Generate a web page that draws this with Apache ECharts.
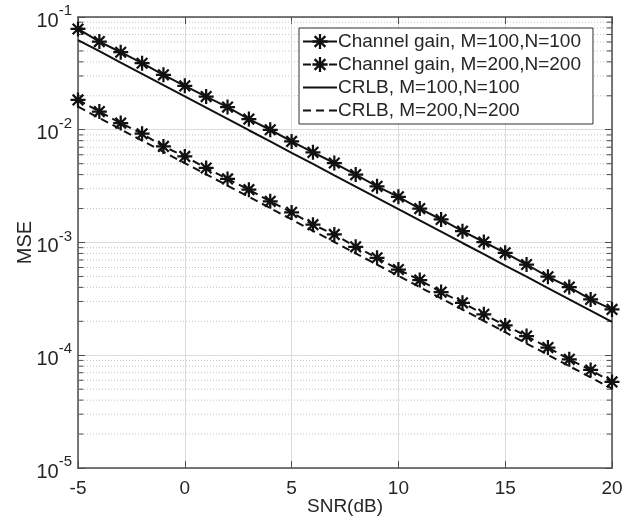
<!DOCTYPE html>
<html>
<head>
<meta charset="utf-8">
<script src="https://cdn.jsdelivr.net/npm/echarts@6/dist/echarts.min.js"></script>
<style>
html,body{margin:0;padding:0;background:#fff;}
#chart{width:634px;height:527px;}
</style>
</head>
<body>
<div id="chart"></div>
<script>
// ---- data ----
const snrDb = [-5,-4,-3,-2,-1,0,1,2,3,4,5,6,7,8,9,10,11,12,13,14,15,16,17,18,19,20];
const gainM100 = [0.0783,0.0605,0.0487,0.0389,0.0307,0.0245,0.0197,0.0159,0.01244,0.0100,0.00788,0.0063,0.00507,0.0040,0.00315,0.00254,0.0020,0.0016,0.00126,0.00101,0.00081,0.000638,0.000497,0.000402,0.000313,0.000255];
const gainM200 = [0.0184,0.0145,0.01146,0.00922,0.00711,0.0058,0.00458,0.00366,0.00294,0.00232,0.00185,0.00144,0.00118,0.000916,0.000732,0.000576,0.000464,0.000363,0.000292,0.000231,0.000184,0.000148,0.000117,0.000092,0.000074,0.000058];
const crlbM100 = [0.0625,0.0497,0.0394,0.0313,0.0249,0.0198,0.0157,0.0125,0.0099,0.0079,0.00625,0.00497,0.00394,0.00313,0.00249,0.00198,0.00157,0.00125,0.00099,0.00079,0.000625,0.000497,0.000394,0.000313,0.000249,0.000198];
const crlbM200 = [0.0160,0.0127,0.0101,0.0080,0.00637,0.00506,0.00402,0.0032,0.00254,0.00202,0.0016,0.00127,0.00101,0.0008,0.000637,0.000506,0.000402,0.00032,0.000254,0.000202,0.00016,0.000127,0.000101,0.00008,0.0000637,0.0000506];
const seriesNames = ['Channel gain, M=100,N=100','Channel gain, M=200,N=200','CRLB, M=100,N=100','CRLB, M=200,N=200'];
const xTicks = [-5,0,5,10,15,20];
const yDecades = [-5,-4,-3,-2,-1];

// ---- helpers ----
const FONT = "'Liberation Sans',Arial,sans-serif";
const TXT = '#262626';
const AX = '#4d4d4d';
const pair = (xs, ys) => xs.map((x, i) => [x, ys[i]]);
const asterisk = 'path://M8.5,0L11.5,0L11.5,20L8.5,20Z M0,8.5L20,8.5L20,11.5L0,11.5Z M3.99,1.87L18.13,16.01L16.01,18.13L1.87,3.99Z M16.01,1.87L18.13,3.99L3.99,18.13L1.87,16.01Z';

// minor grid + minor tick values (2..9 x 10^k), drawn as broken line segments
const xmin = xTicks[0], xmax = xTicks[xTicks.length - 1];
const tickLenX = 0.25;
const minorGridData = [], minorTickData = [];
yDecades.slice(0, 4).forEach(e => {
  for (let m = 2; m <= 9; m++) {
    const v = m * Math.pow(10, e);
    minorGridData.push([xmin, v], [xmax, v], [xmax, '-']);
    minorTickData.push([xmin, v], [xmin + tickLenX, v], [xmin + tickLenX, '-']);
    minorTickData.push([xmax - tickLenX, v], [xmax, v], [xmax, '-']);
  }
});

const chart = echarts.init(document.getElementById('chart'), null, { renderer: 'canvas' });
const lineBase = { type: 'line', animation: false, xAxisIndex: 0, yAxisIndex: 0 };
const hiddenIcon = { color: 'rgba(0,0,0,0)', borderWidth: 0, opacity: 0 };

chart.setOption({
  backgroundColor: '#fff',
  textStyle: { fontFamily: FONT },
  grid: { left: 78, right: 22, top: 17, bottom: 59, show: false },
  legend: {
    orient: 'vertical', left: 299, top: 28,
    backgroundColor: '#fff', borderColor: '#333', borderWidth: 1,
    padding: [4, 12, 4, 3], itemGap: 4, itemWidth: 34, itemHeight: 19,
    textStyle: { fontSize: 19, color: TXT, fontFamily: FONT, padding: [0, 0, 0, -4] },
    data: [
      { name: seriesNames[0] },
      { name: seriesNames[1] },
      { name: seriesNames[2], itemStyle: hiddenIcon },
      { name: seriesNames[3], itemStyle: hiddenIcon }
    ]
  },
  xAxis: [{
    type: 'value', min: xmin, max: xmax, interval: 5, position: 'bottom',
    name: 'SNR(dB)', nameLocation: 'middle', nameGap: 29, nameMoveOverlap: false,
    nameTextStyle: { fontSize: 19, color: TXT, fontFamily: FONT },
    axisLine: { show: true, lineStyle: { color: AX, width: 1.5 } },
    axisTick: { show: true, inside: true, length: 7, lineStyle: { color: AX } },
    axisLabel: { fontSize: 19, color: TXT, fontFamily: FONT, margin: 11 },
    splitLine: { show: true, lineStyle: { color: '#dcdcdc', width: 1 } }
  }, {
    type: 'value', min: xmin, max: xmax, interval: 5, position: 'top',
    axisLine: { show: true, onZero: false, lineStyle: { color: AX, width: 1.5 } },
    axisTick: { show: true, inside: true, length: 7, lineStyle: { color: AX } },
    axisLabel: { show: false }, splitLine: { show: false }
  }],
  yAxis: [{
    type: 'log', logBase: 10, min: 1e-5, max: 1e-1, position: 'left',
    name: 'MSE', nameLocation: 'middle', nameGap: 43, nameRotate: 90, nameMoveOverlap: false,
    nameTextStyle: { fontSize: 20, color: TXT, fontFamily: FONT },
    axisLine: { show: true, onZero: false, lineStyle: { color: AX, width: 1.5 } },
    axisTick: { show: true, inside: true, length: 7, lineStyle: { color: AX } },
    axisLabel: {
      margin: 6, color: TXT, fontFamily: FONT, fontSize: 19,
      formatter: v => '{b|10}{s|' + Math.round(Math.log10(v)) + '}',
      rich: {
        b: { fontSize: 20, color: TXT, fontFamily: FONT, padding: [8, 0, 0, 0] },
        s: { fontSize: 15, color: TXT, fontFamily: FONT, padding: [0, 0, 12, 0] }
      }
    },
    splitLine: { show: true, lineStyle: { color: '#dcdcdc', width: 1 } }
  }, {
    type: 'log', logBase: 10, min: 1e-5, max: 1e-1, position: 'right',
    axisLine: { show: true, onZero: false, lineStyle: { color: AX, width: 1.5 } },
    axisTick: { show: true, inside: true, length: 7, lineStyle: { color: AX } },
    axisLabel: { show: false }, splitLine: { show: false }
  }],
  series: [
    Object.assign({}, lineBase, {
      name: 'minorGrid', data: minorGridData, z: 1, silent: true,
      symbol: 'none', connectNulls: false,
      lineStyle: { color: '#c4c4c4', width: 1, type: [1, 2] }
    }),
    Object.assign({}, lineBase, {
      name: 'minorTick', data: minorTickData, z: 1, silent: true,
      symbol: 'none', connectNulls: false,
      lineStyle: { color: AX, width: 1 }
    }),
    Object.assign({}, lineBase, {
      name: seriesNames[0], data: pair(snrDb, gainM100), z: 5,
      symbol: asterisk, symbolSize: 15, showAllSymbol: true,
      itemStyle: { color: '#111' }, lineStyle: { color: '#111', width: 2 }
    }),
    Object.assign({}, lineBase, {
      name: seriesNames[1], data: pair(snrDb, gainM200), z: 5,
      symbol: asterisk, symbolSize: 15, showAllSymbol: true,
      itemStyle: { color: '#111' }, lineStyle: { color: '#111', width: 2, type: [8, 5] }
    }),
    Object.assign({}, lineBase, {
      name: seriesNames[2], data: pair(snrDb, crlbM100), z: 4,
      symbol: 'none', itemStyle: { color: '#111' }, lineStyle: { color: '#111', width: 2 }
    }),
    Object.assign({}, lineBase, {
      name: seriesNames[3], data: pair(snrDb, crlbM200), z: 4,
      symbol: 'none', itemStyle: { color: '#111' }, lineStyle: { color: '#111', width: 2, type: [8, 5] }
    })
  ]
});
</script>
</body>
</html>
